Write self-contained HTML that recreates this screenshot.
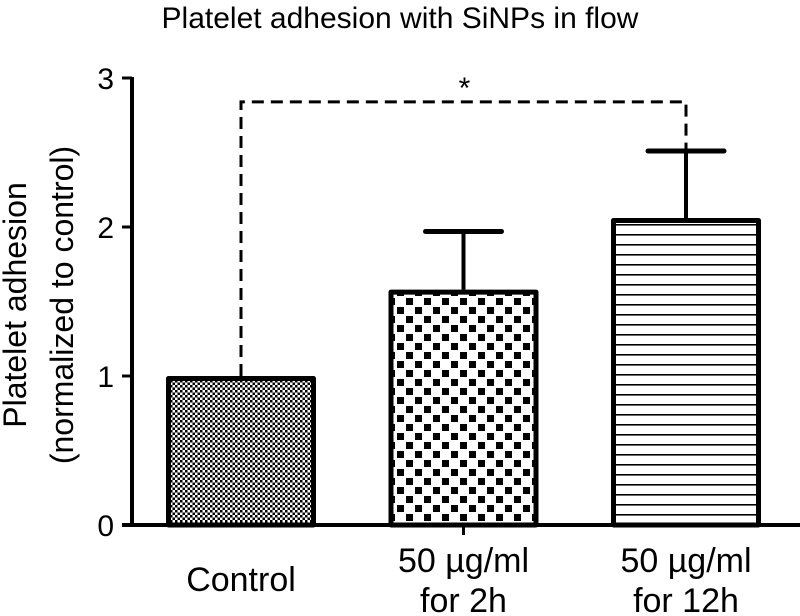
<!DOCTYPE html>
<html><head><meta charset="utf-8"><style>
html,body{margin:0;padding:0;background:#fff;}
svg{display:block;font-family:"Liberation Sans",Arial,sans-serif;}
</style></head><body>
<svg id="chart" width="800" height="616" viewBox="0 0 800 616">
<defs>
<pattern id="p-fine" width="5" height="5" patternUnits="userSpaceOnUse">
<rect width="5" height="5" fill="#fff"/><rect x="0" y="0" width="2.5" height="2.5" fill="#000"/><rect x="2.5" y="2.5" width="2.5" height="2.5" fill="#000"/>
</pattern>
<pattern id="p-check" width="18" height="18" patternUnits="userSpaceOnUse">
<rect width="18" height="18" fill="#fff"/><rect x="1" y="1" width="7" height="7" fill="#000"/><rect x="10" y="10" width="7" height="7" fill="#000"/>
</pattern>
<pattern id="p-lines" width="10" height="10" patternUnits="userSpaceOnUse">
<rect width="10" height="10" fill="#fff"/><rect x="0" y="4" width="10" height="1.6" fill="#000"/>
</pattern>
</defs>
<text x="400" y="28" font-size="30" text-anchor="middle">Platelet adhesion with SiNPs in flow</text>
<g transform="translate(30,305) rotate(-90)">
<text x="0" y="-4" font-size="32" text-anchor="middle">Platelet adhesion</text>
<text x="0" y="43" font-size="32" text-anchor="middle">(normalized to control)</text>
</g>
<g id="plot"></g>
</svg>
<script>
const categories = ["Control", "50 µg/ml|for 2h", "50 µg/ml|for 12h"];
const means = [1.0, 1.58, 2.06];
const errors = [0, 0.39, 0.45];
const yTicks = [0, 1, 2, 3];
const patterns = ["p-fine", "p-check", "p-lines"];
const sigY = 2.84;

const NS = "http://www.w3.org/2000/svg";
const plot = document.getElementById("plot");
const y0 = 525, pxPerUnit = 149, axisX = 132;
const yS = v => y0 - v * pxPerUnit;
const xC = i => 241 + i * 222.5;
const barW = 150;
function mk(tag, attrs, parent) {
  const e = document.createElementNS(NS, tag);
  for (const k in attrs) e.setAttribute(k, attrs[k]);
  (parent || plot).appendChild(e);
  return e;
}
const ya = mk("line", {x1: axisX, y1: yS(3) - 1, x2: axisX, y2: y0, stroke: "#000", "stroke-width": 4});


yTicks.forEach(t => {
  const tk = mk("line", {x1: axisX - 10, y1: yS(t), x2: axisX, y2: yS(t), stroke: "#000", "stroke-width": 3});
  
  
  const lb = mk("text", {x: axisX - 18, y: yS(t) + 11, "font-size": 30, "text-anchor": "end"});
  lb.textContent = t;
  
  
});
const xa = mk("line", {x1: axisX - 10, y1: y0, x2: 800, y2: y0, stroke: "#000", "stroke-width": 4});


const xt = mk("line", {x1: xC(1), y1: y0, x2: xC(1), y2: y0 + 10, stroke: "#000", "stroke-width": 3});


const br = mk("polyline", {points: `${xC(0)},${yS(means[0])} ${xC(0)},${yS(sigY)} ${xC(2)},${yS(sigY)} ${xC(2)},${yS(means[2] + errors[2])}`, fill: "none", stroke: "#000", "stroke-width": 3, "stroke-dasharray": "12,7"});


const st = mk("text", {x: (xC(0) + xC(2)) / 2 + 1, y: yS(sigY) - 4, "font-size": 30, "text-anchor": "middle"});
st.textContent = "*";


means.forEach((m, i) => {
  const cx = xC(i);
  if (errors[i] > 0) {
    const ev = mk("line", {x1: cx, y1: yS(m), x2: cx, y2: yS(m + errors[i]), stroke: "#000", "stroke-width": 4});
    
    
    const ec = mk("line", {x1: cx - 38, y1: yS(m + errors[i]), x2: cx + 38, y2: yS(m + errors[i]), stroke: "#000", "stroke-width": 5, "stroke-linecap": "round"});
    
    
  }
  const b = mk("rect", {x: cx - barW / 2 + 2.5, y: yS(m) + 2.5, width: barW - 5, height: y0 - yS(m) - 2.5, fill: `url(#${patterns[i]})`, stroke: "#000", "stroke-width": 5, "stroke-linejoin": "round"});
  
  
  const lines = categories[i].split("|");
  lines.forEach((ln, j) => {
    const baseY = lines.length === 1 ? 591 : 572 + j * 40;
    const t = mk("text", {x: cx, y: baseY, "font-size": 34, "text-anchor": "middle"});
    t.textContent = ln;
    
    
  });
});
</script>
</body></html>
